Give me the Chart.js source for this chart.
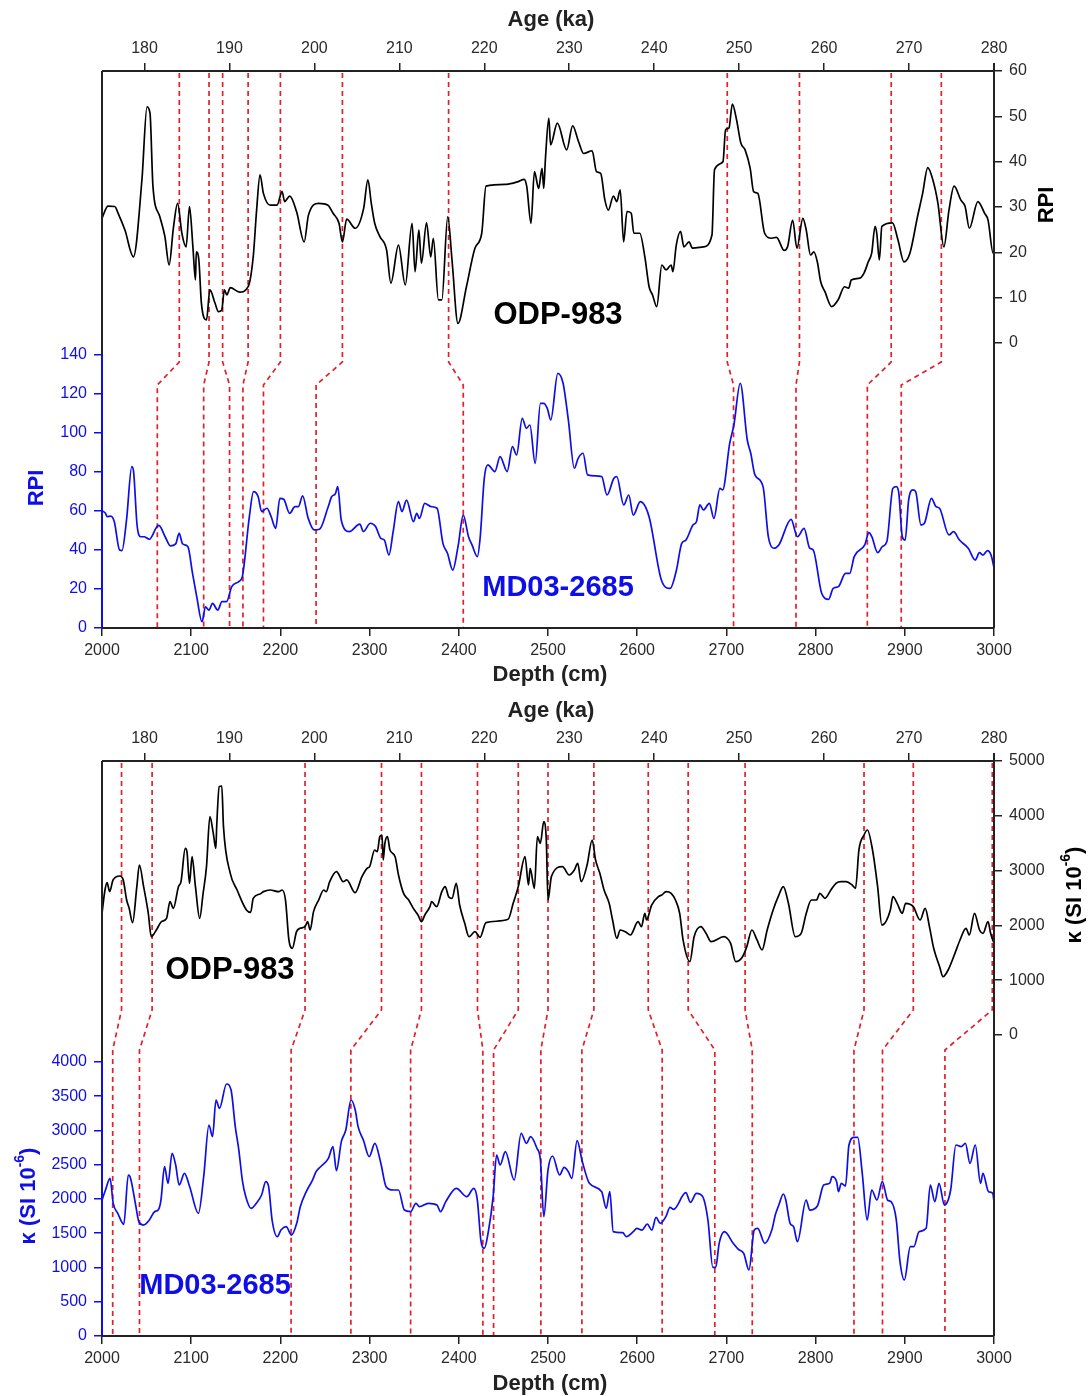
<!DOCTYPE html>
<html>
<head>
<meta charset="utf-8">
<script src="https://cdn.jsdelivr.net/npm/chart.js@4.4.1/dist/chart.umd.min.js"></script>
<style>
  body { margin: 0; background: #fff; }
  canvas { position: absolute; left: 0; }
</style>
</head>
<body>
<canvas id="rpiChart" width="1090" height="690" style="top:0"></canvas>
<canvas id="kapChart" width="1090" height="706" style="top:690px"></canvas>
<script>
// ---- ODP-983 RPI vs age (ka)
var odpRpiAge = [
  175.0,175.7,176.5,176.9,177.7,178.7,179.7,180.3,180.65,181.0,
  181.8,182.4,182.9,183.4,183.9,184.4,184.9,185.3,185.7,186.0,
  186.1,186.4,186.7,187.3,187.7,188.3,188.7,189.1,189.4,189.7,
  190.1,191.2,192.2,192.8,193.2,193.6,194.0,194.8,195.6,196.2,
  196.5,197.1,197.9,198.8,199.3,200.5,201.6,202.2,202.9,203.3,
  203.8,204.8,205.8,206.3,206.7,207.1,207.7,208.5,209.0,209.9,
  210.7,211.5,211.85,212.3,212.6,213.2,213.7,214.0,214.6,215.0,
  215.7,216.2,216.9,217.9,218.9,219.7,220.2,222.6,224.0,224.7,
  225.0,225.5,225.9,226.4,226.8,227.0,227.2,227.6,227.8,228.6,
  229.7,230.4,231.1,231.7,232.7,233.2,233.7,234.2,234.6,235.2,
  235.6,236.0,236.4,236.8,237.3,237.6,238.3,238.9,239.4,239.8,
  240.3,240.9,241.4,242.0,242.2,242.6,243.1,243.5,244.1,244.5,
  245.8,246.8,247.1,248.1,248.4,248.8,249.2,249.7,250.2,250.7,
  251.3,251.7,252.2,253.0,253.8,254.4,255.3,255.7,256.3,256.8,
  257.5,257.9,258.4,258.8,259.2,259.6,260.1,260.9,261.65,262.4,
  262.9,263.2,264.2,264.7,265.2,265.6,266.0,266.2,266.5,266.8,
  268.05,268.7,269.4,270.1,271.0,271.6,272.2,272.8,273.4,274.1,
  274.7,275.3,276.1,276.6,277.1,278.1,278.9,279.3,279.9,280.0
];
var odpRpi = [
  27.5,30.2,30.1,28.6,24.9,19.0,36.0,52.1,50.7,34.5,
  27.9,23.5,17.2,25.3,30.8,24.2,21.2,30.1,21.2,13.9,
  20.1,18.3,8.8,5.1,11.7,8.8,6.9,7.3,11.7,10.6,
  12.2,11.2,12.4,19.0,29.3,37.1,33.0,30.4,30.4,33.4,
  31.2,32.4,29.0,22.3,28.2,30.8,30.4,28.6,26.4,22.3,
  27.3,25.3,29.7,36.0,30.8,26.4,23.5,20.5,13.2,21.6,
  12.8,26.4,15.7,24.9,17.6,26.5,19.0,23.1,9.5,9.5,
  27.9,18.3,4.3,12.4,20.9,24.2,34.6,35.0,35.6,36.1,
  34.5,26.4,37.8,34.1,38.5,34.1,40.7,49.6,43.7,48.5,
  42.6,47.9,44.4,41.8,42.4,37.8,37.4,31.5,29.3,32.4,
  31.2,33.8,22.3,29.0,28.6,24.2,24.2,19.0,12.4,10.6,
  8.0,17.2,16.1,17.2,15.7,21.6,24.6,21.2,22.3,20.9,
  21.2,23.8,38.2,40.0,47.0,47.4,52.7,49.2,44.1,42.6,
  38.5,33.4,33.0,24.2,23.1,23.3,20.4,21.2,27.1,20.9,
  27.5,24.9,19.4,20.1,17.9,13.5,11.3,8.0,9.5,12.4,
  12.1,13.9,14.3,15.4,17.9,19.8,25.7,24.2,18.3,25.7,
  26.5,22.7,17.9,19.8,27.9,33.0,38.7,36.0,30.8,21.2,
  29.3,34.6,31.5,30.1,25.3,31.2,28.6,27.1,19.8,20.1
];

// ---- MD03-2685 RPI vs depth (cm)
var mdRpiDepth = [
  2000,2003.9,2005.9,2009.8,2013.8,2019.7,2022.4,2027.5,2033.4,2035.4,
  2039.3,2043.3,2047.2,2053.1,2061.0,2063.7,2070.8,2076.7,2082.6,2086.5,
  2090.4,2096.3,2101.5,2106.2,2112.1,2116.0,2119.9,2123.9,2129.8,2134.5,
  2139.6,2145.5,2153.4,2157.3,2165.2,2169.9,2175.0,2179.0,2184.9,2189.6,
  2194.7,2199.4,2203.7,2210.4,2216.3,2220.2,2224.9,2231.2,2237.9,2243.8,
  2253.6,2257.6,2261.5,2264.3,2268.2,2277.2,2289.0,2293.0,2300.8,2306.7,
  2312.6,2316.5,2321.7,2326.4,2332.3,2336.3,2341.4,2349.2,2352.8,2355.9,
  2361.8,2368.9,2375.6,2382.2,2387.3,2393.2,2399.1,2405.0,2410.9,2414.8,
  2420.8,2423.9,2428.6,2432.6,2440.4,2446.3,2454.2,2460.1,2464.8,2471.1,
  2475.8,2479.7,2485.6,2491.5,
  2495.3,2499.2,2503.1,2511.0,2516.9,2522.8,2529.5,2533.8,2539.3,2544.4,
  2560.2,2566.1,2573.9,2577.1,2584.9,2590.5,2595.6,2603.5,2613.3,2627.1,
  2636.9,2644.0,2649.9,2654.6,2662.5,2666.4,2670.3,2674.2,2680.9,2686.0,
  2692.7,2695.8,2703.7,2708.4,2715.5,2723.4,2727.3,2732.0,2741.1,2747.0,
  2752.9,2758.8,2772.5,2779.6,2787.1,2793.4,2797.3,2806.8,2814.6,2819.7,
  2825.6,2833.5,2838.2,2843.3,2855.1,2859.8,2863.0,2869.6,2874.8,2879.9,
  2886.6,2890.5,2893.3,2897.2,2900.4,2904.3,2909.0,2912.2,2918.1,2922.0,
  2929.9,2935.0,2938.9,2949.5,2954.6,2961.3,2971.1,2979.0,2983.7,2987.6,
  2992.7,2996.7,3000
];
var mdRpi = [
  60.2,58.8,57.1,57.4,54.5,40.0,39.7,55.4,82.7,80.2,
  52.8,46.8,46.8,45.5,51.5,52.6,46.8,42.1,43.1,48.5,
  43.1,41.7,28.0,16.1,3.2,10.9,9.2,12.6,9.2,13.5,
  13.5,21.2,23.8,26.3,57.1,69.9,67.4,59.7,61.4,57.1,
  51.1,66.5,66.0,58.8,62.2,62.2,67.7,56.2,50.3,50.6,
  62.2,67.4,68.7,72.5,55.4,49.4,53.3,49.4,53.7,52.0,
  46.0,45.1,37.4,49.4,64.8,59.7,65.6,54.5,58.8,56.2,
  63.9,62.2,61.4,43.4,38.3,29.7,41.7,57.9,46.8,42.6,
  36.6,46.0,76.8,83.6,80.2,87.9,80.2,93.0,88.7,107.5,
  102.4,104.1,84.4,115.2,
  115.2,112.6,106.7,130.6,125.5,106.7,81.9,87.0,89.6,78.5,
  77.6,68.2,76.8,77.6,63.1,68.2,57.9,64.8,57.1,24.6,
  20.3,29.7,43.4,45.1,52.8,54.5,63.1,60.5,63.9,56.2,
  71.6,70.8,94.7,104.1,125.5,96.4,89.6,78.5,72.5,46.8,
  40.9,42.6,55.7,46.8,51.1,40.9,40.0,17.8,14.7,20.3,
  21.2,28.0,28.0,36.6,42.6,48.9,46.8,38.6,41.7,44.3,
  71.6,72.5,69.1,46.8,45.1,65.6,70.8,69.9,52.8,53.7,
  66.5,62.2,61.4,47.7,49.4,45.1,40.9,34.9,38.6,37.4,
  39.7,37.4,31.0
];

// ---- ODP-983 kappa vs age (ka)
var odpKapAge = [
  175.0,175.35,175.6,175.9,176.3,177.1,177.5,177.9,178.2,178.6,
  179.1,179.4,179.9,180.45,180.8,181.4,182.0,182.6,183.0,183.4,
  184.0,184.3,184.8,185.0,185.3,185.6,186.0,186.5,186.9,187.3,
  187.7,188.1,188.4,188.5,188.8,189.1,189.3,190.1,190.9,192.0,
  192.5,192.8,193.6,194.0,194.8,195.8,196.2,196.6,197.0,197.4,
  197.9,198.3,198.9,199.2,199.5,199.9,200.5,201.1,201.4,201.8,
  202.6,203.4,203.8,204.8,205.6,206.2,206.5,207.1,207.4,207.7,
  207.96,208.1,208.3,208.6,208.9,209.5,209.9,210.5,211.1,211.65,
  212.2,212.6,213.0,213.6,213.8,214.4,215.0,215.4,215.8,216.2,
  216.7,217.1,217.7,218.2,218.9,219.5,220.2,222.8,223.4,224.0,
  224.8,225.2,225.4,225.9,226.25,226.6,227.0,227.3,
  227.5,227.9,229.2,230.0,230.6,231.0,231.4,232.1,232.7,233.1,
  233.6,234.1,234.7,235.1,235.6,236.0,236.6,237.2,238.1,238.5,
  238.9,239.1,239.7,240.5,240.9,241.4,242.0,242.5,243.0,243.4,
  244.2,244.7,245.5,246.1,246.7,248.2,248.6,249.0,249.6,250.4,
  250.9,251.5,252.1,252.7,253.3,254.0,254.6,255.2,255.8,256.6,
  257.3,257.9,258.5,259.1,259.5,260.1,260.8,261.4,262.0,262.6,
  263.3,263.7,264.1,264.7,265.1,265.7,266.3,266.8,267.8,268.1,
  268.6,269.2,269.6,270.5,271.3,271.9,272.4,272.9,273.6,274.0,
  274.6,275.4,276.0,276.7,277.1,277.7,278.3,278.7,279.3,279.6,
  280.0
];
var odpKap = [
  2220,2646,2780,2616,2829,2901,2829,2463,2311,2050,
  2707,3102,2707,2220,1794,1916,2068,2129,2433,2311,
  2707,2798,3406,3345,2768,3254,2707,2129,2585,3072,
  3984,3680,3406,3802,4532,4544,3802,2950,2646,2281,
  2238,2494,2573,2616,2646,2616,2646,2463,1734,1582,
  1886,1946,1977,2068,1916,2251,2463,2646,2616,2798,
  2981,2798,2829,2597,2890,3041,3072,3376,3345,3619,
  3650,3193,3497,3619,3376,3254,2920,2585,2463,2311,
  2190,2068,2190,2342,2433,2342,2616,2707,2524,2494,
  2768,2372,2038,1794,1886,1782,2050,2111,2403,2707,
  3254,2737,3041,2676,3619,3497,3893,3558,
  2463,2890,3072,2920,3011,3133,2798,3102,3558,3193,
  2950,2646,2403,2099,1764,1916,1886,1825,2068,1977,
  2220,2099,2372,2524,2555,2616,2585,2463,2220,1734,
  1338,1794,1977,1855,1703,1794,1764,1673,1338,1429,
  1612,1916,1734,1551,1916,2281,2524,2707,2403,1794,
  1855,2220,2463,2463,2585,2494,2646,2768,2798,2798,
  2737,2676,3376,3650,3741,3376,2707,2007,2281,2524,
  2403,2220,2403,2342,2099,2311,1977,1582,1247,1064,
  1186,1490,1734,1946,1825,2220,1916,1855,2068,1855,
  1673
];

// ---- MD03-2685 kappa vs depth (cm)
var mdKapDepth = [
  2000,2003.9,2009.0,2012.6,2017.7,2024.4,2029.5,2031.5,2037.4,2041.3,
  2046.4,2053.1,2059.0,2063.0,2066.1,2070.1,2074.0,2078.6,2082.6,2086.5,
  2092.4,2098.3,2108.1,2114.0,2119.9,2123.9,2127.8,2131.7,2139.6,2144.7,
  2149.4,2153.4,2157.3,2161.2,2167.1,2173.0,2178.9,2183.6,2186.8,2190.7,
  2196.6,2200.6,2206.5,2212.4,2218.3,2222.3,2229.0,2236.0,2240.0,2245.9,
  2253.8,2258.9,2262.8,2268.3,2273.3,2279.2,2283.9,2287.1,2293.0,2299.6,
  2305.9,2312.6,2318.5,2326.4,2332.3,2339.0,2346.0,2351.9,2355.9,2365.7,
  2375.5,2379.5,2385.4,2397.2,2409.0,2416.8,2420.8,2424.7,2428.6,2433.4,
  2438.5,2442.4,2446.3,2452.2,2462.1,2469.9,2475.8,2480.5,2487.6,2491.5,
  2495.3,2500,2505.1,2513.0,2518.1,2522.8,2526.7,2532.6,2538.5,2546.4,
  2560.2,2565.3,2569.3,2573.1,2583.8,2587.7,2595.6,2599.5,2605.4,2611.3,
  2616.4,2621.1,2625.8,2632.1,2636.8,2640.8,2654.5,2659.7,2666.3,2673.0,
  2679.3,2684.8,2688.0,2691.9,2697.8,2707.6,2713.5,2719.4,2725.3,2731.2,
  2735.1,2743.0,2750.9,2754.8,2758.8,2763.9,2766.6,2771.4,2775.3,2779.6,
  2789.4,2793.4,2802.0,2809.1,2815.8,2818.5,2823.6,2825.6,2828.8,2833.5,
  2837.4,2843.3,2847.2,2852.3,2857.8,2862.9,2868.8,2874.8,2880.7,2884.6,
  2890.5,2894.4,2899.5,2906.2,2910.1,2916.0,2923.9,2928.6,2933.7,2938.4,
  2944.4,2951.4,2957.3,2963.2,2967.9,2973.1,2979.0,2984.9,2987.6,2993.9,
  2998.6,3000
];
var mdKap = [
  1985,2131,2302,1937,1791,1630,2350,2326,1937,1669,
  1620,1693,1815,1839,1985,2472,2229,2667,2496,2204,
  2375,2180,1791,2326,3080,2910,3445,3324,3679,3591,
  3056,2715,2277,2034,1864,1937,2058,2253,2180,1693,
  1450,1547,1596,1474,1645,1888,2107,2277,2399,2482,
  2594,2764,2414,2837,3007,3445,3299,3056,2861,2618,
  2813,2521,2180,2131,2131,1839,1815,1937,1888,1937,
  1912,1815,1961,2156,2034,2156,1985,1401,1280,1547,
  2034,2642,2496,2691,2277,2959,2813,2910,2740,2569,
  1742,2423,2628,2350,2462,2399,2302,2852,2545,2229,
  2107,1864,2107,1523,1508,1450,1523,1572,1547,1635,
  1547,1732,1645,1742,1878,1849,2092,1951,2083,2044,
  1693,1002,1002,1353,1523,1353,1265,1207,964,1547,
  1572,1353,1547,1766,1912,2073,1985,1645,1596,1377,
  1985,1839,1898,2204,2229,2326,2253,2107,2229,2190,
  2788,2900,2900,2375,1693,2131,1985,2253,1985,1961,
  1693,1109,818,1304,1304,1523,1572,2204,1961,2229,
  1912,2131,2788,2764,2813,2521,2788,2229,2375,2107,
  2083,1961
];

// ---- tie points (age in ODP-983 -> depth in MD03-2685)
var rpiTieAge   = [184.1,187.6,189.2,192.2,196.0,203.3,215.8,248.6,257.1,267.9,273.8];
var rpiTieDepth = [2062,2114,2143,2158,2181,2240,2405,2708,2778,2858,2896];
var kapTieAge   = [177.3,180.9,198.9,207.9,212.6,219.2,224.0,227.5,232.9,239.3,244.0,250.7,264.7,270.5,279.8];
var kapTieDepth = [2012,2042,2212,2279,2346,2427,2439,2492,2538,2628,2687,2729,2843,2875,2945];

// ---- tick labels
var ageTicks    = [180,190,200,210,220,230,240,250,260,270,280];
var depthTicks  = [2000,2100,2200,2300,2400,2500,2600,2700,2800,2900,3000];
var mdRpiTicks  = [0,20,40,60,80,100,120,140];
var odpRpiTicks = [0,10,20,30,40,50,60];
var mdKapTicks  = [0,500,1000,1500,2000,2500,3000,3500,4000];
var odpKapTicks = [0,1000,2000,3000,4000,5000];

var FONT = '"Liberation Sans", Arial, Helvetica, sans-serif';
var BLUE = 'rgb(14,14,232)';
var INK = '#222';
var RED = '#e3202a';

function pts(xs, ys) {
  return xs.map(function(x, i) { return {x: x, y: ys[i]}; });
}

function axis(pos, min, max, ticks, color, size) {
  var horiz = pos === 'top' || pos === 'bottom';
  return {
    type: 'linear', axis: horiz ? 'x' : 'y', position: pos, min: min, max: max,
    border: {display: false},
    grid: {drawOnChartArea: false, drawTicks: true, tickLength: 8, lineWidth: 1.5, color: color},
    ticks: {
      color: color === INK ? '#2a2a2a' : color, padding: horiz ? 5 : 7, autoSkip: false, maxRotation: 0,
      font: {family: FONT, size: 16},
      callback: function(v) { return String(v); }
    },
    afterBuildTicks: function(s) { s.ticks = ticks.map(function(v) { return {value: v}; }); },
    afterFit: function(s) { if (horiz) s.height = size; else s.width = size; }
  };
}

function drawText(ctx, parts, x, y, rot, color) {
  ctx.save();
  ctx.translate(x, y);
  if (rot) ctx.rotate(rot);
  ctx.fillStyle = color;
  ctx.textBaseline = 'middle';
  ctx.textAlign = 'left';
  var w = 0;
  parts.forEach(function(p) { ctx.font = 'bold ' + p.size + 'px ' + FONT; w += ctx.measureText(p.s).width; });
  var cx = -w / 2;
  parts.forEach(function(p) {
    ctx.font = 'bold ' + p.size + 'px ' + FONT;
    ctx.fillText(p.s, cx, -(p.up || 0));
    cx += ctx.measureText(p.s).width;
  });
  ctx.restore();
}

var overlay = {
  id: 'overlay',
  beforeDatasetsDraw: function(chart, args, o) {
    var ctx = chart.ctx, a = chart.chartArea, s = chart.scales;
    ctx.save();
    ctx.strokeStyle = RED;
    ctx.lineWidth = 1.7;
    ctx.setLineDash([5, 4]);
    o.tieAge.forEach(function(t, i) {
      var xa = s.age.getPixelForValue(t);
      var xd = s.depth.getPixelForValue(o.tieDepth[i]);
      ctx.beginPath();
      ctx.moveTo(xa, a.top + 2);
      ctx.lineTo(xa, s.yL.getPixelForValue(o.bend[0]));
      ctx.lineTo(xd, s.yL.getPixelForValue(o.bend[1]));
      ctx.lineTo(xd, a.bottom);
      ctx.stroke();
    });
    ctx.restore();
  },
  afterDraw: function(chart, args, o) {
    var ctx = chart.ctx, a = chart.chartArea, s = chart.scales;
    ctx.save();
    ctx.lineWidth = 2;
    ctx.strokeStyle = INK;
    ctx.beginPath();
    ctx.moveTo(a.left, a.top); ctx.lineTo(a.right, a.top);
    ctx.moveTo(a.left, a.bottom); ctx.lineTo(a.right, a.bottom);
    ctx.moveTo(a.right, a.top - 8); ctx.lineTo(a.right, a.bottom);
    var yb = s.yL.getPixelForValue(o.leftTop);
    ctx.moveTo(a.left, a.top); ctx.lineTo(a.left, yb);
    ctx.stroke();
    ctx.strokeStyle = BLUE;
    ctx.beginPath();
    ctx.moveTo(a.left, yb); ctx.lineTo(a.left, a.bottom);
    ctx.stroke();
    ctx.restore();
    o.texts.forEach(function(t) { drawText(ctx, t.parts, t.x, t.y, t.rot, t.color); });
  }
};

function line(data, xId, yId, color) {
  return {data: data, xAxisID: xId, yAxisID: yId, borderColor: color, borderWidth: 1.7,
          pointRadius: 0, cubicInterpolationMode: 'monotone', fill: false};
}

var H = -Math.PI / 2;
function T(s, size) { return [{s: s, size: size}]; }
var kappaTitle = [{s: 'κ (SI 10', size: 22}, {s: '-6', size: 14, up: 9}, {s: ')', size: 22}];

new Chart(document.getElementById('rpiChart'), {
  type: 'line',
  data: {datasets: [
    line(pts(mdRpiDepth, mdRpi), 'depth', 'yL', BLUE),
    line(pts(odpRpiAge, odpRpi), 'age', 'yR', '#000')
  ]},
  options: {
    responsive: false, animation: false, layout: {padding: 0},
    scales: {
      age: axis('top', 175, 280, ageTicks, INK, 71),
      depth: axis('bottom', 2000, 3000, depthTicks, INK, 62),
      yL: axis('left', 0, 285.6, mdRpiTicks, BLUE, 102),
      yR: axis('right', -62.9, 60, odpRpiTicks, INK, 96)
    },
    plugins: {
      legend: {display: false}, tooltip: {enabled: false},
      overlay: {
        tieAge: rpiTieAge, tieDepth: rpiTieDepth, bend: [136.4, 124.6], leftTop: 140,
        texts: [
          {parts: T('Age (ka)', 22), x: 551, y: 20, color: INK},
          {parts: T('Depth (cm)', 22), x: 550, y: 675, color: INK},
          {parts: T('RPI', 22), x: 1047, y: 205, rot: H, color: '#000'},
          {parts: T('RPI', 22), x: 37, y: 488, rot: H, color: BLUE},
          {parts: T('ODP-983', 31), x: 558, y: 315, color: '#000'},
          {parts: T('MD03-2685', 29), x: 558, y: 588, color: BLUE}
        ]
      }
    }
  },
  plugins: [overlay]
});

new Chart(document.getElementById('kapChart'), {
  type: 'line',
  data: {datasets: [
    line(pts(mdKapDepth, mdKap), 'depth', 'yL', BLUE),
    line(pts(odpKapAge, odpKap), 'age', 'yR', '#000')
  ]},
  options: {
    responsive: false, animation: false, layout: {padding: 0},
    scales: {
      age: axis('top', 175, 280, ageTicks, INK, 71),
      depth: axis('bottom', 2000, 3000, depthTicks, INK, 60),
      yL: axis('left', 0, 8394, mdKapTicks, BLUE, 102),
      yR: axis('right', -5493, 5000, odpKapTicks, INK, 96)
    },
    plugins: {
      legend: {display: false}, tooltip: {enabled: false},
      overlay: {
        tieAge: kapTieAge, tieDepth: kapTieDepth, bend: [4760, 4175], leftTop: 4000,
        texts: [
          {parts: T('Age (ka)', 22), x: 551, y: 21, color: INK},
          {parts: T('Depth (cm)', 22), x: 550, y: 694, color: INK},
          {parts: kappaTitle, x: 1075, y: 205, rot: H, color: '#000'},
          {parts: kappaTitle, x: 29, y: 506, rot: H, color: BLUE},
          {parts: T('ODP-983', 31), x: 230, y: 280, color: '#000'},
          {parts: T('MD03-2685', 29), x: 215, y: 596, color: BLUE}
        ]
      }
    }
  },
  plugins: [overlay]
});
</script>
</body>
</html>
